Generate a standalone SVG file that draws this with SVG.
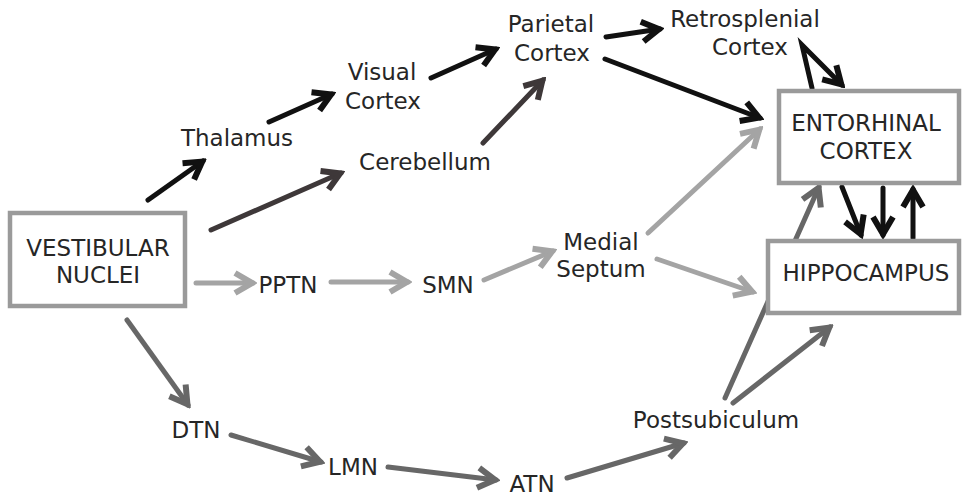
<svg xmlns="http://www.w3.org/2000/svg" width="964" height="498" viewBox="0 0 964 498">
<style>
text{font-family:"DejaVu Sans","Verdana",sans-serif;font-size:23px;fill:#262626;text-anchor:middle}
.box{fill:#fff;stroke:#9a9a9a;stroke-width:4.5}
.c line,.c polyline{stroke-width:5;fill:none;stroke-linecap:round}
.k{stroke:#111;marker-end:url(#mk)}
.d{stroke:#3e3839;marker-end:url(#md)}
.m{stroke:#676767;marker-end:url(#mm)}
.l{stroke:#a4a4a4;marker-end:url(#ml)}
</style>
<defs>
<marker id="mk" viewBox="-24 -14 28 28" refX="0" refY="0" markerWidth="28" markerHeight="28" markerUnits="userSpaceOnUse" orient="auto"><path d="M-18,-10 L-1,0 L-18,10" fill="none" stroke="#111" stroke-width="6"/></marker>
<marker id="md" viewBox="-24 -14 28 28" refX="0" refY="0" markerWidth="28" markerHeight="28" markerUnits="userSpaceOnUse" orient="auto"><path d="M-18,-10 L-1,0 L-18,10" fill="none" stroke="#3e3839" stroke-width="6"/></marker>
<marker id="mm" viewBox="-24 -14 28 28" refX="0" refY="0" markerWidth="28" markerHeight="28" markerUnits="userSpaceOnUse" orient="auto"><path d="M-18,-10 L-1,0 L-18,10" fill="none" stroke="#676767" stroke-width="6"/></marker>
<marker id="ml" viewBox="-24 -14 28 28" refX="0" refY="0" markerWidth="28" markerHeight="28" markerUnits="userSpaceOnUse" orient="auto"><path d="M-18,-10 L-1,0 L-18,10" fill="none" stroke="#a4a4a4" stroke-width="6"/></marker>
</defs>
<rect width="964" height="498" fill="#fff"/>
<g id="connectors" class="c">
<line class="k" x1="148" y1="200" x2="203" y2="161"/>
<line class="k" x1="269" y1="122" x2="332" y2="94"/>
<line class="k" x1="431" y1="78" x2="496" y2="49"/>
<line class="k" x1="606" y1="37" x2="660" y2="29"/>
<line class="k" x1="605" y1="59" x2="760" y2="118"/>
<polyline class="k" points="812,88 802,45 842,85"/>
<line class="d" x1="211" y1="230" x2="341" y2="173"/>
<line class="d" x1="483" y1="143" x2="543" y2="80"/>
<line class="l" x1="196" y1="283" x2="253" y2="283"/>
<line class="l" x1="331" y1="282" x2="408" y2="282"/>
<line class="l" x1="484" y1="280" x2="553" y2="251"/>
<line class="l" x1="648" y1="233" x2="760" y2="129"/>
<line class="l" x1="657" y1="259" x2="753" y2="292"/>
<line class="m" x1="127" y1="320" x2="188" y2="405"/>
<line class="m" x1="231" y1="435" x2="321" y2="462"/>
<line class="m" x1="388" y1="467" x2="496" y2="480"/>
<line class="m" x1="567" y1="478" x2="684" y2="443"/>
<line class="m" x1="725" y1="398" x2="819" y2="187"/>
<line class="m" x1="733" y1="403" x2="830" y2="327"/>
<line class="k" x1="842" y1="187" x2="861" y2="235"/>
<line class="k" x1="883" y1="188" x2="883" y2="235"/>
<line class="k" x1="913" y1="238" x2="913" y2="189"/>
</g>
<g id="vestibular"><rect class="box" x="10" y="213" width="175" height="93"/><text x="98" y="256">VESTIBULAR</text><text x="98" y="283">NUCLEI</text></g>
<g id="entorhinal"><rect class="box" x="779" y="91" width="180" height="92"/><text x="866" y="131">ENTORHINAL</text><text x="866" y="159">CORTEX</text></g>
<g id="hippocampus"><rect class="box" x="768" y="241" width="191" height="72"/><text x="866" y="281">HIPPOCAMPUS</text></g>
<g id="thalamus"><text x="237" y="146">Thalamus</text></g>
<g id="visual"><text x="382" y="80">Visual</text><text x="383" y="109">Cortex</text></g>
<g id="cerebellum"><text x="425" y="170">Cerebellum</text></g>
<g id="parietal"><text x="551" y="32">Parietal</text><text x="552" y="61">Cortex</text></g>
<g id="retrosplenial"><text x="745" y="27">Retrosplenial</text><text x="750" y="55">Cortex</text></g>
<g id="pptn"><text x="288" y="293">PPTN</text></g>
<g id="smn"><text x="448" y="293">SMN</text></g>
<g id="medialseptum"><text x="601" y="250">Medial</text><text x="601" y="277">Septum</text></g>
<g id="dtn"><text x="196" y="438">DTN</text></g>
<g id="lmn"><text x="353" y="475">LMN</text></g>
<g id="atn"><text x="532" y="492">ATN</text></g>
<g id="postsubiculum"><text x="716" y="428">Postsubiculum</text></g>
</svg>
